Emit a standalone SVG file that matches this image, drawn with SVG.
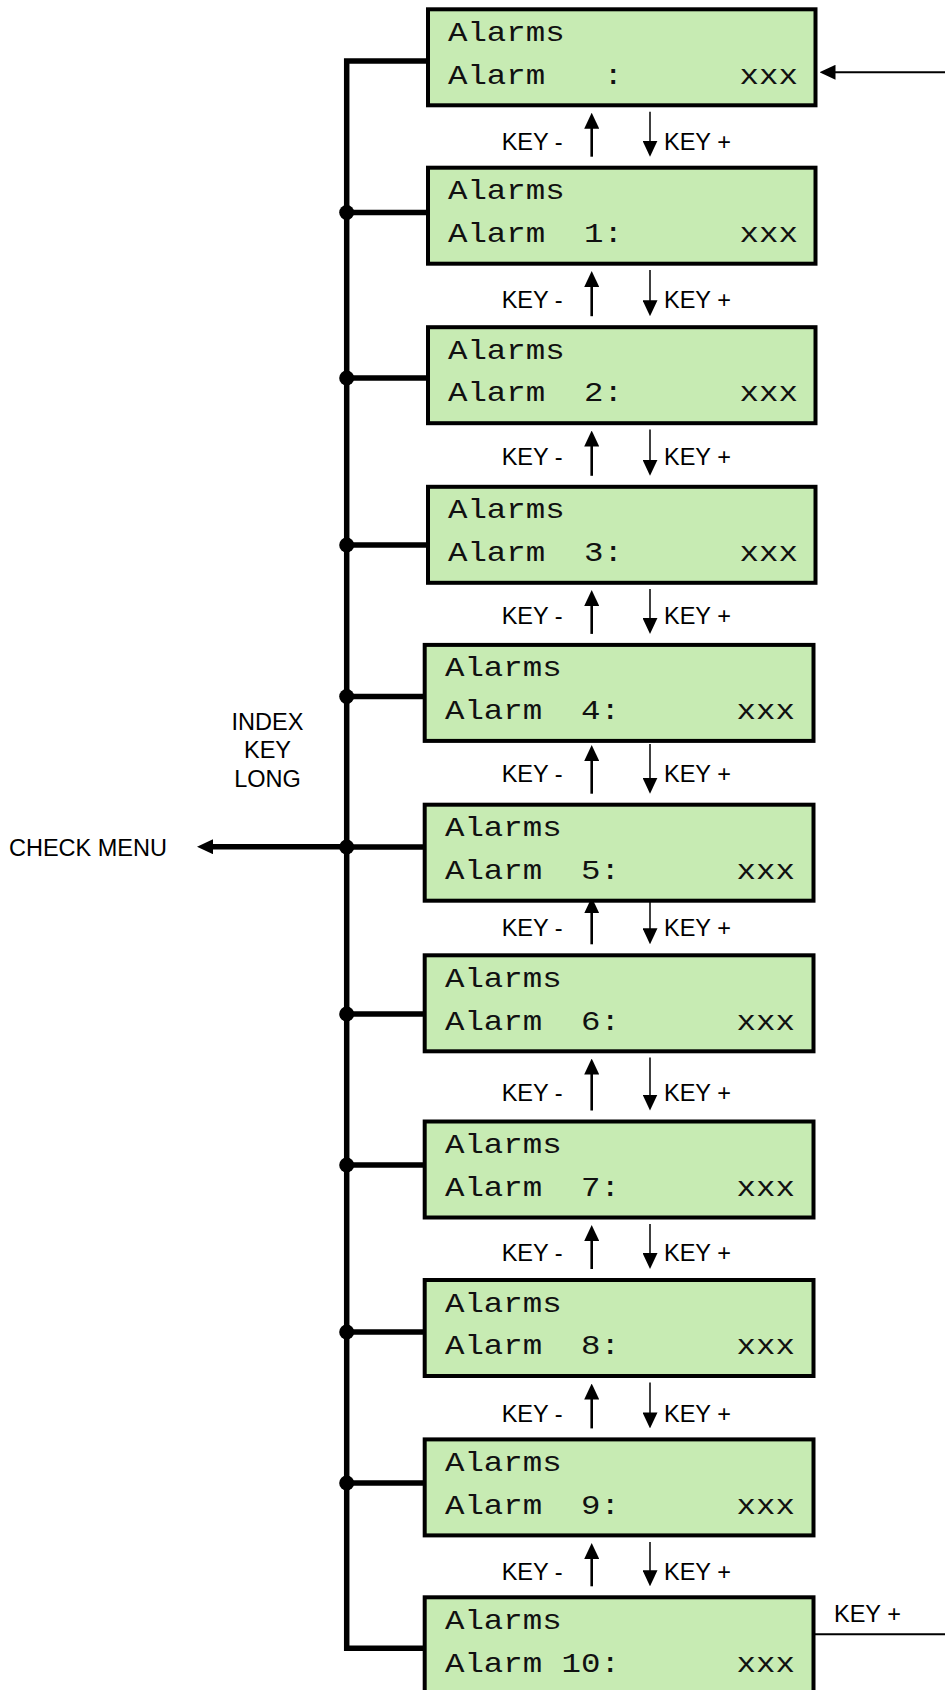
<svg xmlns="http://www.w3.org/2000/svg" width="945" height="1690" viewBox="0 0 945 1690">
<style>
.box{fill:#c7ebb3;stroke:#000;stroke-width:4}
.mono{font-family:"Liberation Mono","Courier New",monospace;font-size:27px;fill:#111}
.sans{font-family:"Liberation Sans",Arial,sans-serif;font-size:23.5px;fill:#000}
.bus{fill:none;stroke:#000;stroke-width:5.5;stroke-linejoin:miter}
.up{stroke:#000;stroke-width:2.6;fill:none}
.dn{stroke:#000;stroke-width:1.5;fill:none}
.side{stroke:#000;stroke-width:2;fill:none}
.dot{fill:#000}
</style>
<defs>
<marker id="ah" markerUnits="userSpaceOnUse" markerWidth="16" markerHeight="15" viewBox="0 0 16 15" refX="2" refY="7.5" orient="auto"><path d="M0,0 L16,7.5 L0,15 z" fill="#000"/></marker>
</defs>
<g id="connectors">
<path class="bus" d="M426,61 H346.7 V1648.3 H423"/>
<path class="bus" d="M346.7,212.5 H426 M346.7,378 H426 M346.7,545 H426 M346.7,696.5 H423 M346.7,847 H423 M346.7,1014 H423 M346.7,1165 H423 M346.7,1332 H423 M346.7,1483 H423"/>
<circle class="dot" cx="346.7" cy="212.5" r="7.5"/>
<circle class="dot" cx="346.7" cy="378" r="7.5"/>
<circle class="dot" cx="346.7" cy="545" r="7.5"/>
<circle class="dot" cx="346.7" cy="696.5" r="7.5"/>
<circle class="dot" cx="346.7" cy="847" r="7.5"/>
<circle class="dot" cx="346.7" cy="1014" r="7.5"/>
<circle class="dot" cx="346.7" cy="1165" r="7.5"/>
<circle class="dot" cx="346.7" cy="1332" r="7.5"/>
<circle class="dot" cx="346.7" cy="1483" r="7.5"/>
<path class="bus" d="M346.7,846.7 H211" marker-end="url(#ah)"/>
<path class="side" d="M945,72.3 H833.5" marker-end="url(#ah)"/>
<path class="side" d="M815,1634.3 H945"/>
<path class="up" d="M591.7,156.7 V126.7" marker-end="url(#ah)"/>
<path class="dn" d="M650,111.7 V142.7" marker-end="url(#ah)"/>
<path class="up" d="M591.7,316.2 V285" marker-end="url(#ah)"/>
<path class="dn" d="M650,270 V302.2" marker-end="url(#ah)"/>
<path class="up" d="M591.7,475.8 V444.5" marker-end="url(#ah)"/>
<path class="dn" d="M650,429.5 V461.8" marker-end="url(#ah)"/>
<path class="up" d="M591.7,633.9 V604" marker-end="url(#ah)"/>
<path class="dn" d="M650,589 V619.9" marker-end="url(#ah)"/>
<path class="up" d="M591.7,793.7 V759" marker-end="url(#ah)"/>
<path class="dn" d="M650,744 V779.7" marker-end="url(#ah)"/>
<path class="up" d="M591.7,944.3 V911.3" marker-end="url(#ah)"/>
<path class="dn" d="M650,897.3 V930.3" marker-end="url(#ah)"/>
<path class="up" d="M591.7,1110.5 V1072.5" marker-end="url(#ah)"/>
<path class="dn" d="M650,1057.5 V1096.5" marker-end="url(#ah)"/>
<path class="up" d="M591.7,1269 V1239" marker-end="url(#ah)"/>
<path class="dn" d="M650,1224 V1255" marker-end="url(#ah)"/>
<path class="up" d="M591.7,1428.4 V1397.5" marker-end="url(#ah)"/>
<path class="dn" d="M650,1382.5 V1414.4" marker-end="url(#ah)"/>
<path class="up" d="M591.7,1586.3 V1557" marker-end="url(#ah)"/>
<path class="dn" d="M650,1542 V1572.3" marker-end="url(#ah)"/>
</g>
<g id="labels">
<text class="sans" x="501.7" y="150">KEY -</text><text class="sans" x="664" y="150">KEY +</text>
<text class="sans" x="501.7" y="307.5">KEY -</text><text class="sans" x="664" y="307.5">KEY +</text>
<text class="sans" x="501.7" y="465">KEY -</text><text class="sans" x="664" y="465">KEY +</text>
<text class="sans" x="501.7" y="624">KEY -</text><text class="sans" x="664" y="624">KEY +</text>
<text class="sans" x="501.7" y="781.6">KEY -</text><text class="sans" x="664" y="781.6">KEY +</text>
<text class="sans" x="501.7" y="935.5">KEY -</text><text class="sans" x="664" y="935.5">KEY +</text>
<text class="sans" x="501.7" y="1100.6">KEY -</text><text class="sans" x="664" y="1100.6">KEY +</text>
<text class="sans" x="501.7" y="1261">KEY -</text><text class="sans" x="664" y="1261">KEY +</text>
<text class="sans" x="501.7" y="1421.7">KEY -</text><text class="sans" x="664" y="1421.7">KEY +</text>
<text class="sans" x="501.7" y="1580">KEY -</text><text class="sans" x="664" y="1580">KEY +</text>
<text class="sans" x="834" y="1621.7">KEY +</text>
<text class="sans" x="9" y="856">CHECK MENU</text>
<text class="sans" x="267.5" y="730" text-anchor="middle">INDEX</text>
<text class="sans" x="267.5" y="758.3" text-anchor="middle">KEY</text>
<text class="sans" x="267.5" y="786.7" text-anchor="middle">LONG</text>
</g>
<g id="box0"><rect class="box" x="428" y="9.3" width="387.5" height="96"/><text class="mono" transform="translate(448 40.8) scale(1.2 1)" xml:space="preserve">Alarms</text><text class="mono" transform="translate(448 83.5) scale(1.2 1)" xml:space="preserve">Alarm   :      xxx</text></g>
<g id="box1"><rect class="box" x="428" y="167.7" width="387.5" height="96"/><text class="mono" transform="translate(448 199.2) scale(1.2 1)" xml:space="preserve">Alarms</text><text class="mono" transform="translate(448 241.9) scale(1.2 1)" xml:space="preserve">Alarm  1:      xxx</text></g>
<g id="box2"><rect class="box" x="428" y="327.2" width="387.5" height="96"/><text class="mono" transform="translate(448 358.7) scale(1.2 1)" xml:space="preserve">Alarms</text><text class="mono" transform="translate(448 401.4) scale(1.2 1)" xml:space="preserve">Alarm  2:      xxx</text></g>
<g id="box3"><rect class="box" x="428" y="486.8" width="387.5" height="96"/><text class="mono" transform="translate(448 518.3) scale(1.2 1)" xml:space="preserve">Alarms</text><text class="mono" transform="translate(448 561) scale(1.2 1)" xml:space="preserve">Alarm  3:      xxx</text></g>
<g id="box4"><rect class="box" x="424.7" y="644.9" width="388.8" height="96"/><text class="mono" transform="translate(445 676.4) scale(1.2 1)" xml:space="preserve">Alarms</text><text class="mono" transform="translate(445 719.1) scale(1.2 1)" xml:space="preserve">Alarm  4:      xxx</text></g>
<g id="box5"><rect class="box" x="424.7" y="804.7" width="388.8" height="96"/><text class="mono" transform="translate(445 836.2) scale(1.2 1)" xml:space="preserve">Alarms</text><text class="mono" transform="translate(445 878.9) scale(1.2 1)" xml:space="preserve">Alarm  5:      xxx</text></g>
<g id="box6"><rect class="box" x="424.7" y="955.3" width="388.8" height="96"/><text class="mono" transform="translate(445 986.8) scale(1.2 1)" xml:space="preserve">Alarms</text><text class="mono" transform="translate(445 1029.5) scale(1.2 1)" xml:space="preserve">Alarm  6:      xxx</text></g>
<g id="box7"><rect class="box" x="424.7" y="1121.5" width="388.8" height="96"/><text class="mono" transform="translate(445 1153) scale(1.2 1)" xml:space="preserve">Alarms</text><text class="mono" transform="translate(445 1195.7) scale(1.2 1)" xml:space="preserve">Alarm  7:      xxx</text></g>
<g id="box8"><rect class="box" x="424.7" y="1280" width="388.8" height="96"/><text class="mono" transform="translate(445 1311.5) scale(1.2 1)" xml:space="preserve">Alarms</text><text class="mono" transform="translate(445 1354.2) scale(1.2 1)" xml:space="preserve">Alarm  8:      xxx</text></g>
<g id="box9"><rect class="box" x="424.7" y="1439.4" width="388.8" height="96"/><text class="mono" transform="translate(445 1470.9) scale(1.2 1)" xml:space="preserve">Alarms</text><text class="mono" transform="translate(445 1513.6) scale(1.2 1)" xml:space="preserve">Alarm  9:      xxx</text></g>
<g id="box10"><rect class="box" x="424.7" y="1597.3" width="388.8" height="96"/><text class="mono" transform="translate(445 1628.8) scale(1.2 1)" xml:space="preserve">Alarms</text><text class="mono" transform="translate(445 1671.5) scale(1.2 1)" xml:space="preserve">Alarm 10:      xxx</text></g>
</svg>
